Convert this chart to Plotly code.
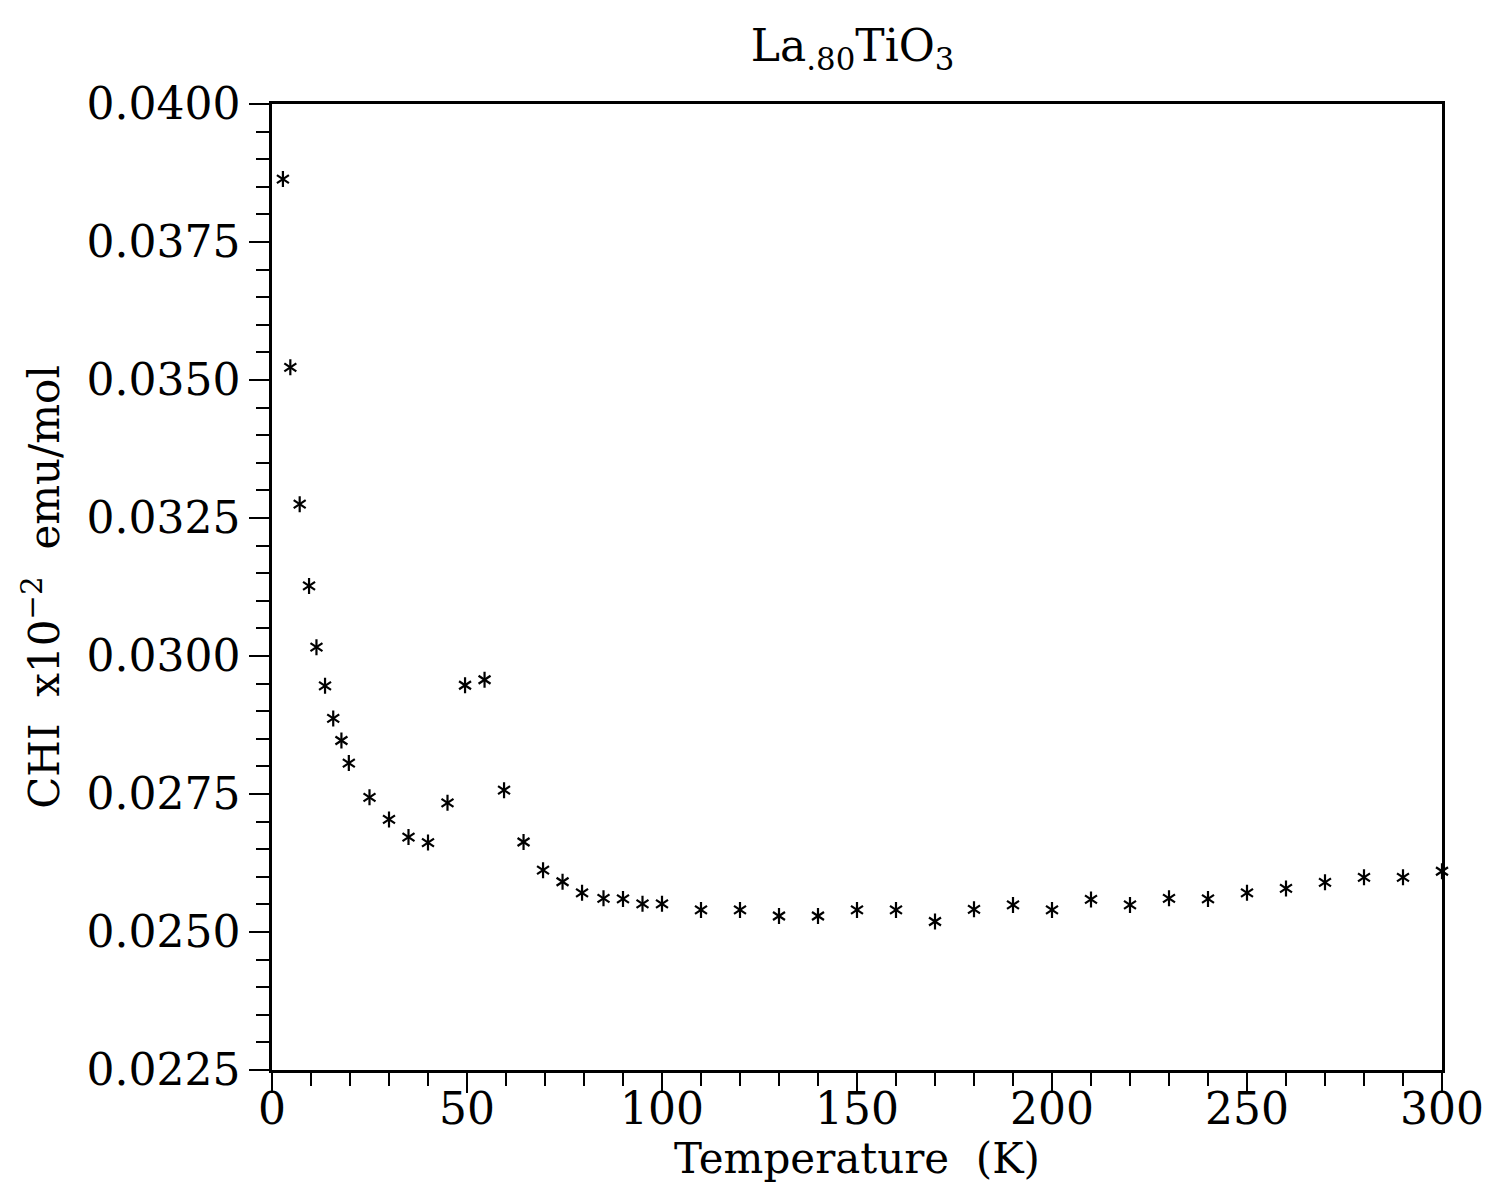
import plotly.graph_objects as go

# Data (temperature in K, susceptibility)
temperature = [2.8, 4.7, 7.1, 9.5, 11.4, 13.6, 15.7, 17.8, 19.7, 25, 30, 35, 40, 45,
               49.5, 54.5, 59.5, 64.5, 69.5, 74.5, 79.5, 85, 90, 95, 100,
               110, 120, 130, 140, 150, 160, 170, 180, 190, 200,
               210, 220, 230, 240, 250, 260, 270, 280, 290, 300]
chi = [0.03864, 0.03523, 0.03275, 0.03127, 0.03016, 0.02946, 0.02887, 0.02847, 0.02806,
       0.02744, 0.02704, 0.02672, 0.02662, 0.02734, 0.02947, 0.02957, 0.02757, 0.02663,
       0.02612, 0.02591, 0.02571, 0.02561, 0.02560, 0.02551, 0.02551,
       0.02540, 0.02540, 0.02529, 0.02529, 0.02540, 0.02540, 0.02519, 0.02541, 0.02549,
       0.02540, 0.02559, 0.02549, 0.02561, 0.02560, 0.02571, 0.02579, 0.02590, 0.02599,
       0.02599, 0.02610]

y_ticks = [0.0225, 0.0250, 0.0275, 0.0300, 0.0325, 0.0350, 0.0375, 0.0400]
x_ticks = [0, 50, 100, 150, 200, 250, 300]

FONT = "DejaVu Serif"

fig = go.Figure()
for sym in ["y-up", "y-down"]:
    fig.add_trace(go.Scatter(
        x=temperature, y=chi, mode="markers",
        marker=dict(symbol=sym, size=10, color="black",
                    line=dict(color="black", width=2.2)),
        cliponaxis=False, showlegend=False, hoverinfo="x+y"))

axis_common = dict(
    showgrid=False, zeroline=False, showline=True, linecolor="black", linewidth=2.5,
    mirror=True, ticks="outside", tickcolor="black", tickwidth=2, ticklen=20,
    tickfont=dict(family=FONT, size=44, color="black"), automargin=False,
)

fig.update_xaxes(
    range=[0, 300], tickvals=x_ticks, ticktext=[str(v) for v in x_ticks],
    minor=dict(dtick=10, ticks="outside", ticklen=13, tickwidth=2, tickcolor="black"),
    ticklabelstandoff=-22, ticklabeloverflow="allow",
    title=dict(text="Temperature  (K)", font=dict(family=FONT, size=42, color="black"),
               standoff=10),
    **axis_common)

fig.update_yaxes(
    range=[0.0225, 0.0400], tickvals=y_ticks, ticktext=[f"{v:.4f}" for v in y_ticks],
    minor=dict(dtick=0.0005, ticks="outside", ticklen=13, tickwidth=2, tickcolor="black"),
    title=dict(text="CHI  x10<sup>−2</sup>  emu/mol",
               font=dict(family=FONT, size=42, color="black"), standoff=14),
    **axis_common)

fig.update_layout(
    width=1488, height=1194,
    margin=dict(l=272, r=46, t=104, b=124),
    paper_bgcolor="white", plot_bgcolor="white",
    title=dict(text="La<sub>.80</sub>TiO<sub>3</sub>", x=0.573, xanchor="center",
               y=0.962, yanchor="middle", yref="container",
               font=dict(family=FONT, size=44, color="black")),
)

fig.write_html("out.html", post_script="document.body.style.margin='0';",
               config={"displayModeBar": False})
